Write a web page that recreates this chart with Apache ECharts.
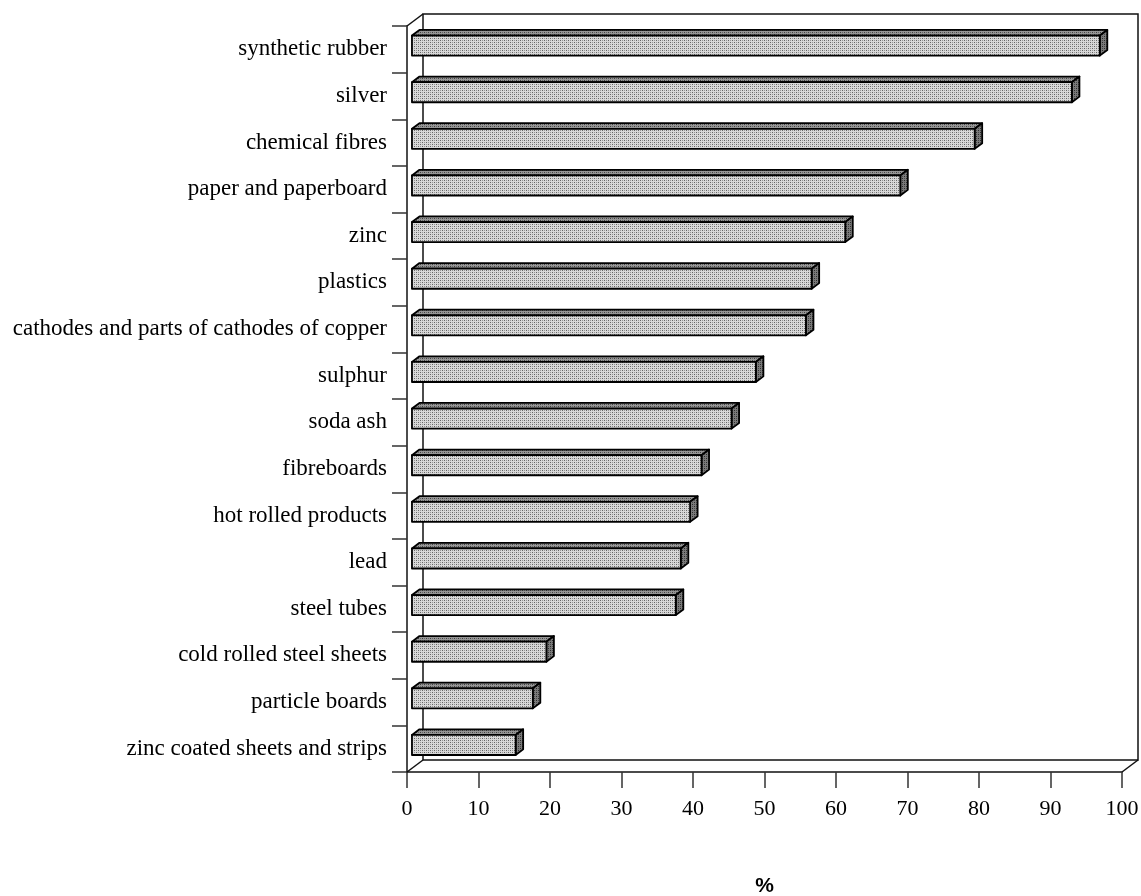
<!DOCTYPE html>
<html>
<head>
<meta charset="utf-8">
<script src="https://cdn.jsdelivr.net/npm/echarts@6/dist/echarts.min.js"></script>
<style>html,body{margin:0;padding:0;background:#fff}#c{width:1141px;height:896px}</style>
</head>
<body>
<div id="c"></div>
<script>
const categories = ['synthetic rubber','silver','chemical fibres','paper and paperboard','zinc','plastics','cathodes and parts of cathodes of copper','sulphur','soda ash','fibreboards','hot rolled products','lead','steel tubes','cold rolled steel sheets','particle boards','zinc coated sheets and strips'];
const values = [96.2, 92.3, 78.7, 68.3, 60.6, 55.9, 55.1, 48.1, 44.7, 40.5, 38.9, 37.6, 36.9, 18.8, 16.9, 14.5];
const xTicks = [0, 10, 20, 30, 40, 50, 60, 70, 80, 90, 100];

function makePattern(bg, d1, d2) {
  const c = document.createElement('canvas');
  c.width = 4; c.height = 4;
  const g = c.getContext('2d');
  g.fillStyle = bg; g.fillRect(0, 0, 4, 4);
  g.fillStyle = d1; g.fillRect(0, 0, 1, 1); g.fillRect(2, 2, 1, 1);
  g.fillStyle = d2; g.fillRect(2, 0, 1, 1); g.fillRect(0, 2, 1, 1);
  return { image: c, repeat: 'repeat' };
}
const frontFill = makePattern('#d8d8d8', '#646464', '#969696');
const topFill = makePattern('#969696', '#404040', '#666666');
const sideFill = makePattern('#7a7a7a', '#2a2a2a', '#4a4a4a');

const DX = 16, DY = -12;          // depth of the 3D box
const F0 = 0.31, F1 = 0.78;       // bar depth range (fraction of box depth)
const serif = '"Liberation Serif", "Times New Roman", serif';

const chart = echarts.init(document.getElementById('c'), null, { renderer: 'canvas' });

chart.setOption({
  animation: false,
  grid: { left: 407, right: 19, top: 26, bottom: 124, containLabel: false, outerBoundsMode: 'none' },
  xAxis: {
    type: 'value', min: 0, max: 100, interval: 10,
    name: '%', nameLocation: 'middle', nameGap: 104,
    nameTextStyle: { fontFamily: 'Liberation Sans, Arial, sans-serif', fontWeight: 'bold', fontSize: 21, color: '#000' },
    axisLine: { show: true, lineStyle: { color: '#111', width: 1.5 } },
    axisTick: { show: true, length: 16, lineStyle: { color: '#333', width: 1.5 } },
    axisLabel: { margin: 26, fontFamily: serif, fontSize: 22, color: '#000',
      formatter: v => (xTicks.indexOf(v) >= 0 ? String(v) : '') },
    splitLine: { show: false }
  },
  yAxis: {
    type: 'category', data: categories, inverse: true,
    axisLine: { show: true, lineStyle: { color: '#111', width: 1.5 } },
    axisTick: { show: true, length: 15, lineStyle: { color: '#333', width: 1.5 } },
    axisLabel: { margin: 20, fontFamily: serif, fontSize: 23, color: '#000' },
    splitLine: { show: false }
  },
  series: [
    {
      type: 'custom', z: 1, silent: true,
      data: [[0, 0]],
      renderItem: function (params, api) {
        const cs = params.coordSys;
        const L = cs.x, T = cs.y, R = cs.x + cs.width, B = cs.y + cs.height;
        const ls = { stroke: '#111', lineWidth: 1.5, fill: null };
        return {
          type: 'group',
          children: [
            { type: 'polyline', shape: { points: [[L + DX, B + DY], [L + DX, T + DY], [R + DX, T + DY], [R + DX, B + DY], [L + DX, B + DY]] }, style: ls },
            { type: 'line', shape: { x1: L, y1: T, x2: L + DX, y2: T + DY }, style: ls },
            { type: 'line', shape: { x1: L, y1: B, x2: L + DX, y2: B + DY }, style: ls },
            { type: 'line', shape: { x1: R, y1: B, x2: R + DX, y2: B + DY }, style: ls }
          ]
        };
      }
    },
    {
      type: 'custom', z: 3, silent: true,
      encode: { x: 0, y: 1 },
      data: values.map((v, i) => [v, i]),
      renderItem: function (params, api) {
        const v = api.value(0), c = api.value(1);
        const p0 = api.coord([0, c]);
        const p1 = api.coord([v, c]);
        const band = api.size([0, 1])[1];
        const h = band * 0.43;
        const fx = DX * F0, fy = DY * F0, bx = DX * F1, by = DY * F1;
        const xl = p0[0] + fx, xr = p1[0] + fx;
        const yt = p0[1] + fy - h / 2, yb = p0[1] + fy + h / 2;
        const ddx = bx - fx, ddy = by - fy;
        const st = { stroke: '#000', lineWidth: 1.8, lineJoin: 'round' };
        return {
          type: 'group',
          children: [
            { type: 'polygon', shape: { points: [[xl, yt], [xl + ddx, yt + ddy], [xr + ddx, yt + ddy], [xr, yt]] },
              style: Object.assign({ fill: topFill }, st) },
            { type: 'polygon', shape: { points: [[xr, yt], [xr + ddx, yt + ddy], [xr + ddx, yb + ddy], [xr, yb]] },
              style: Object.assign({ fill: sideFill }, st) },
            { type: 'rect', shape: { x: xl, y: yt, width: xr - xl, height: yb - yt },
              style: Object.assign({ fill: frontFill }, st) }
          ]
        };
      }
    }
  ]
});
</script>
</body>
</html>
